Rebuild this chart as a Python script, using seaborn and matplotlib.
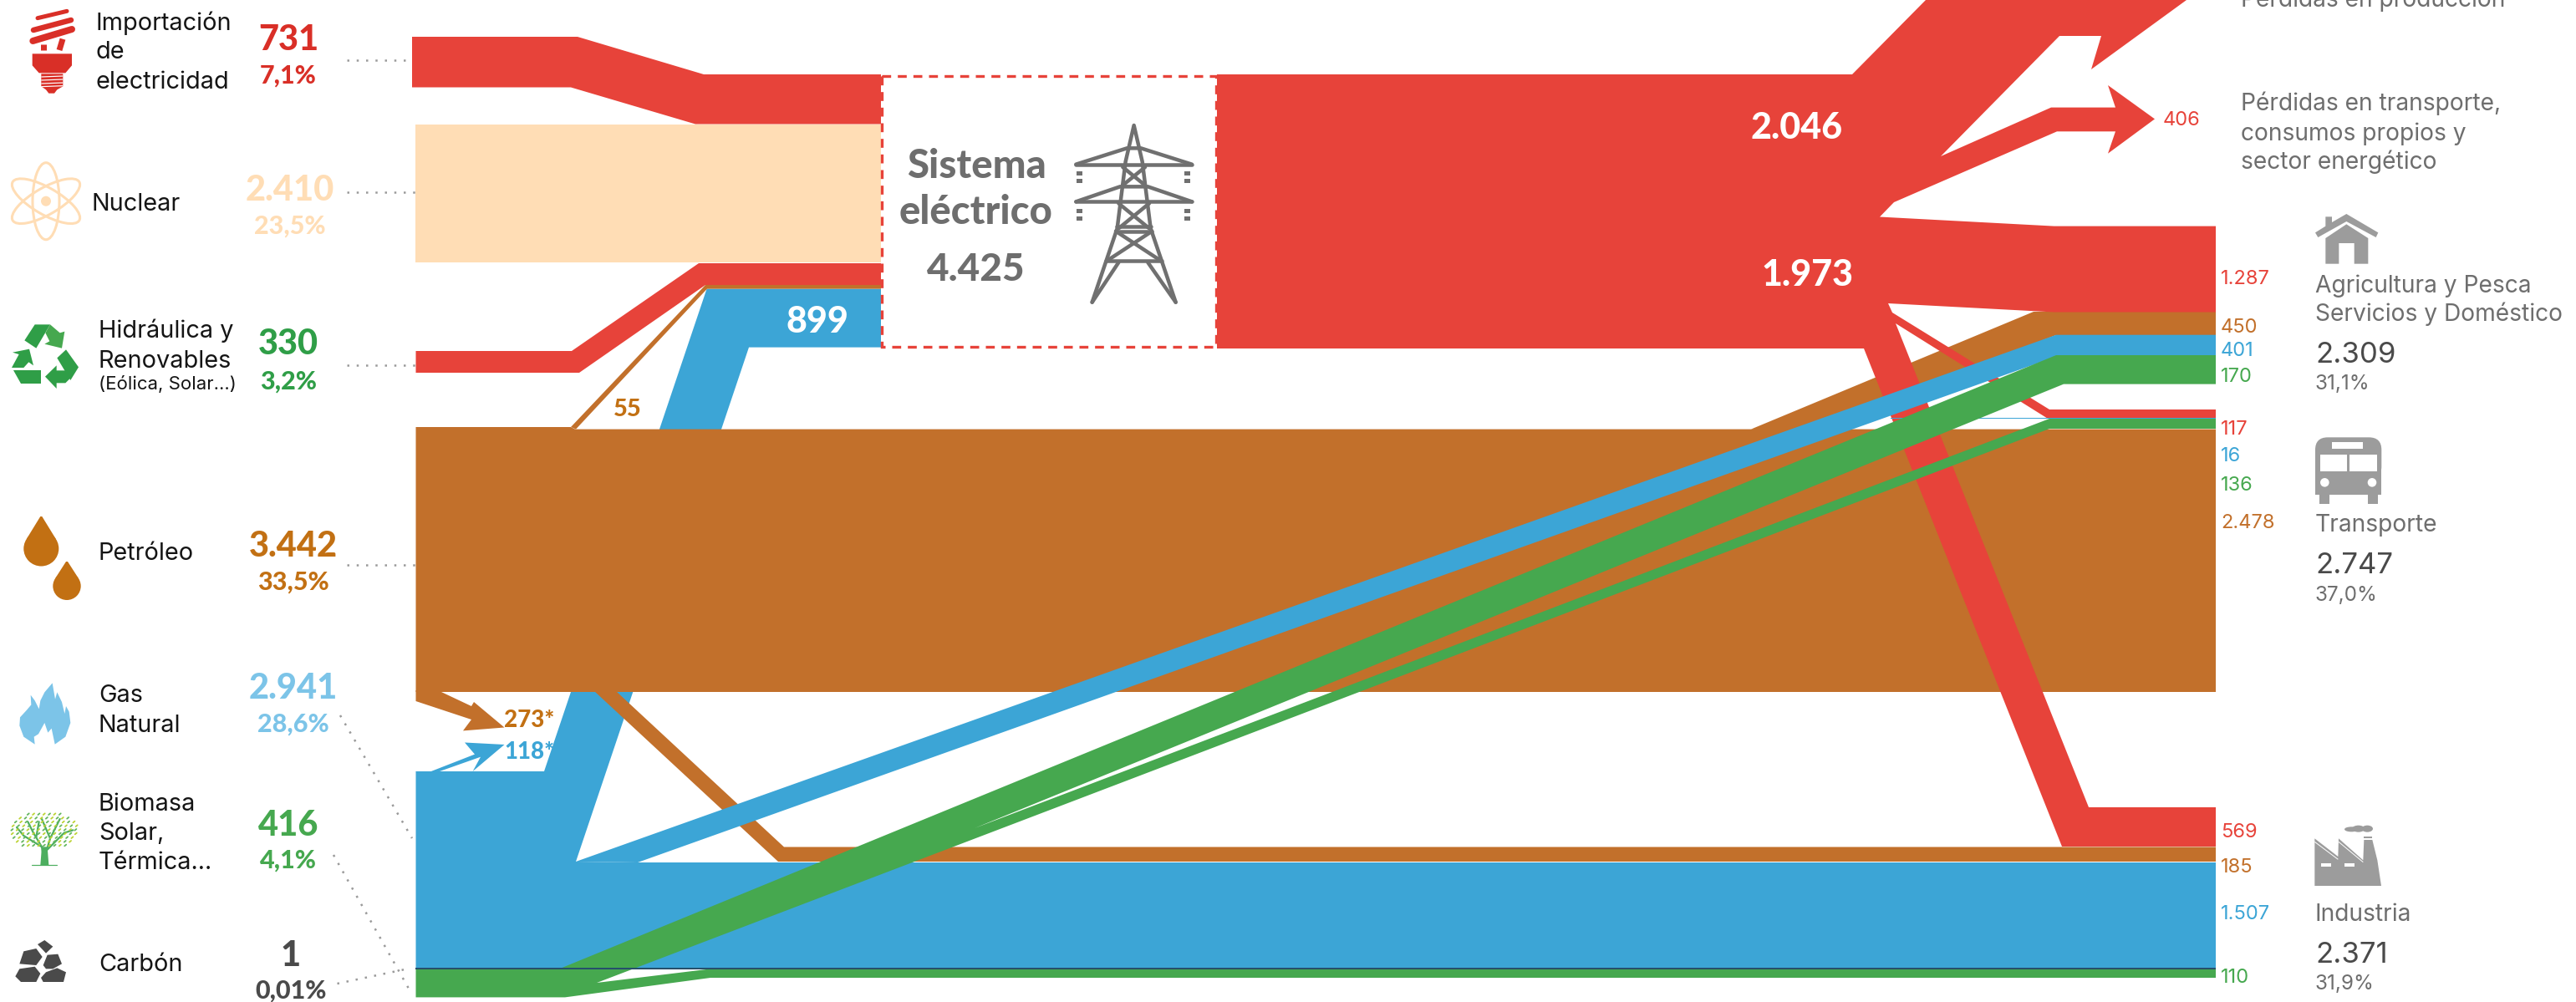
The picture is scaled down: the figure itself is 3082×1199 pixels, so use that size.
import numpy as np
import pandas as pd
import matplotlib
matplotlib.use("Agg")
import matplotlib.pyplot as plt
from matplotlib.patches import Ellipse, Circle, FancyBboxPatch, Rectangle
import seaborn as sns

# ---------------- DATA ----------------
sources = ["Importación de electricidad", "Nuclear", "Hidráulica y Renovables", "Petróleo",
           "Gas Natural", "Biomasa Solar, Térmica", "Carbón"]
source_values = ["731", "2.410", "330", "3.442", "2.941", "416", "1"]
source_shares = ["7,1%", "23,5%", "3,2%", "33,5%", "28,6%", "4,1%", "0,01%"]
electric_total = "4.425"
electric_inputs = ["899", "55"]
electric_outputs = ["2.046", "1.973"]
star_values = ["273*", "118*"]
transport_loss = "406"
sector_flows = ["1.287", "450", "401", "170", "117", "16", "136", "2.478", "569", "185", "1.507", "110"]
sectors = ["Transporte", "Industria"]
sector_totals = ["2.309", "2.747", "2.371"]
sector_shares = ["31,1%", "37,0%", "31,9%"]

# ---------------- STYLE ----------------
RED, PEACH, ORANGE, BLUE, GREEN = "#E7433A", "#FFDDB5", "#C2702B", "#3CA5D6", "#46A84F"
T_RED, T_GREEN, T_BLUE, T_DARK, T_GREY = "#D92F27", "#2F9E47", "#7CC4E8", "#4A4A4A", "#6E6E6E"
OIL = "#C27013"
ICON = "#9C9C9C"
sns.set_theme(style="white")
plt.rcParams["font.family"] = ["Inter", "Lato", "DejaVu Sans"]
BOLD = ["Lato", "DejaVu Sans"]

W, H = 3082, 1199
fig = plt.figure(figsize=(W / 100, H / 100), dpi=100)
ax = fig.add_axes([0, 0, 1, 1])
ax.set_xlim(0, W)
ax.set_ylim(H, 0)
ax.axis("off")


def band(pts, color, z):
    a = np.array(pts, float)
    ax.fill(a[:, 0], a[:, 1], color=color, lw=0, zorder=z)


def txt(x, y, s, size, color="#151515", weight="normal", ha="left", z=20):
    fam = BOLD if weight != "normal" else plt.rcParams["font.family"]
    ax.text(x, y, s, fontsize=size, color=color, fontweight=weight, ha=ha, va="center_baseline",
            zorder=z, family=fam, clip_on=True)


def seg(pts, color, w, z=21, cap="round"):
    a = np.array(pts, float)
    ax.plot(a[:, 0], a[:, 1], color=color, lw=w * 0.72, solid_capstyle=cap, solid_joinstyle="round", zorder=z)


# ---------------- FLOWS (layout of the diagram) ----------------
XL, XC, XB, XR = 497.5, 1054, 1456, 2651
# blue feed to electricity, behind the oil block
band([(XL, 923), (651, 923), (845.6, 345.6), (XC, 345.6), (XC, 415.6), (896, 415.6), (689, 1031), (651, 1031)], BLUE, 1)
# oil
band([(XL, 511), (683, 511), (688, 513.6), (XR, 513.6), (XR, 828), (XL, 828)], ORANGE, 2)
band([(XL, 826), (528, 828), (564, 845), (567, 840), (603.5, 870.5), (554, 874.4), (564, 861), (XL, 839)], ORANGE, 2)
band([(711, 827), (737, 827), (938, 1013.5), (XR, 1013.5), (XR, 1031), (931, 1031)], ORANGE, 2)
band([(2095, 513.6), (2433, 373), (XR, 373), (XR, 401), (2460, 401), (2150, 520)], ORANGE, 2)
band([(683, 511), (844, 341), (XC, 341), (XC, 345.6), (846, 345.6), (689, 513.6)], ORANGE, 3)
# electricity in
band([(493, 44), (691, 44), (842, 89), (XC, 89), (XC, 148.5), (832, 148.5), (683, 104.5), (493, 104.5)], RED, 3)
band([(XL, 149), (XC, 149), (XC, 314), (XL, 314)], PEACH, 3)
band([(XL, 420), (684, 420), (836, 315), (XC, 315), (XC, 341), (844, 341), (693, 446), (XL, 446)], RED, 3)
# electricity out
band([(XB, 89), (2216, 89), (2304, 0), (2616, 0), (2502, 83), (2514, 43), (2464, 43), (2322, 187), (2454, 128.6),
      (2531, 128.6), (2522, 102), (2578, 142.4), (2522, 183.7), (2531, 157.3), (2461, 157.3), (2266, 242),
      (2249, 259.5), (2457.5, 270.6), (XR, 270.6), (XR, 373.5), (2457.5, 373.5), (2259, 363), (2264, 374),
      (2452, 490), (XR, 490), (XR, 500), (2448.6, 500), (2268, 387), (2499, 966), (XR, 966), (XR, 1013),
      (2467, 1013), (2230, 417), (XB, 417)], RED, 4)
# thin blue to transport
band([(2262, 499.5), (XR, 499.5), (XR, 501), (2262, 501)], BLUE, 4.5)
# gas
band([(XL, 923), (651, 923), (689, 1031), (763, 1032), (XR, 1032), (XR, 1158), (XL, 1158)], BLUE, 5)
band([(689, 1031), (2460, 400.7), (XR, 400.7), (XR, 425), (2465, 425), (763, 1032)], BLUE, 5)
band([(515.8, 923), (568, 902.6), (556, 888.5), (603.5, 891), (565.6, 923), (575, 905.7), (526, 923)], BLUE, 5)
# biomass / renewables
band([(XL, 1159), (670, 1159), (2460, 425), (XR, 425), (XR, 459.6), (2469, 459.6), (1166, 991), (2452, 501),
      (XR, 501), (XR, 513), (2452, 513), (714, 1176), (849, 1159.5), (XR, 1159.5), (XR, 1170), (850, 1170),
      (676, 1193.4), (XL, 1193.4)], GREEN, 6)
# coal hairline
band([(XL, 1157.5), (XR, 1157.5), (XR, 1159.5), (XL, 1159.5)], "#26506B", 6.5)

# ---------------- ELECTRIC BOX ----------------
ax.add_patch(Rectangle((1055, 90.7), 400, 324.3, fc="white", ec=RED, lw=2.4, ls=(0, (3.2, 2.4)), zorder=7))
txt(1168, 195, "Sistema", 34, T_GREY, 900, "center")
txt(1168, 250, "eléctrico", 34, T_GREY, 900, "center")
txt(1168, 319, electric_total, 33, T_GREY, 900, "center")


def tw(p):
    return [(1000 + x / 3, 60 + y / 3) for x, y in p]


TOWER = "#707070"
for l in [[(920, 905), (1010, 640), (1040, 400), (1070, 270), (1100, 400), (1130, 640), (1220, 905)],
          [(862, 410), (1278, 410)], [(862, 410), (1045, 352), (1095, 352), (1278, 410)],
          [(862, 544), (1278, 544)], [(862, 544), (1020, 490), (1120, 490), (1278, 544)],
          [(1030, 420), (1110, 485)], [(1110, 420), (1030, 485)],
          [(1015, 550), (1125, 640)], [(1125, 550), (1015, 640)],
          [(1008, 632), (1132, 632)], [(1005, 650), (1135, 650)],
          [(1005, 650), (1165, 755)], [(1135, 650), (975, 755)],
          [(970, 757), (1170, 757)], [(1015, 762), (920, 905)], [(1120, 762), (1220, 905)]]:
    seg(tw(l), TOWER, 4.5)
for xx in (875, 1262):
    for yy in (442, 468, 578, 603):
        (x0, y0), = tw([(xx - 10, yy - 7)])
        ax.add_patch(Rectangle((x0, y0), 7, 5, fc=TOWER, lw=0, zorder=21))

# ---------------- LEFT LABELS ----------------
LBL = 20.8
BIG, SMALL = 30, 22
for s, y, x in [("Importación", 25, 115), ("de", 60, 115), ("electricidad", 95, 115), ("Nuclear", 242, 110),
                ("Hidráulica y", 393, 118), ("Renovables", 429, 118), ("Petróleo", 660, 118), ("Gas", 829, 118),
                ("Natural", 865, 118), ("Biomasa", 959, 118), ("Solar,", 994, 118), ("Térmica...", 1029, 118),
                ("Carbón", 1151, 118)]:
    txt(x, y, s, LBL)
txt(118, 458, "(Eólica, Solar...)", 16)

val_pos = [(345, 44, 88), (347, 224, 268), (345, 409, 454), (351, 650, 694), (351, 820, 864), (345, 985, 1027), (348, 1140, 1183.5)]
val_col = [T_RED, PEACH, T_GREEN, OIL, T_BLUE, GREEN, T_DARK]
for v, p, (x, y1, y2), c in zip(source_values, source_shares, val_pos, val_col):
    txt(x, y1, v, BIG, c, 900, "center")
    txt(x, y2, p, SMALL, c, 900, "center")

# dotted leaders
leaders = [((415, 497), (72, 72)), ((415, 497), (230, 230)), ((415, 497), (437, 437)), ((415, 497), (676, 676)),
           ((407, 493), (856, 1003)), ((399, 491), (1023, 1186.5)), ((403.5, 491), (1177, 1158.6))]
for xs, ys in leaders:
    sns.lineplot(x=list(xs), y=list(ys), ax=ax, color="#9A9A9A", lw=1.8, ls=(0, (1, 3.5)),
                 sort=False, estimator=None, legend=False, zorder=1)
ax.set_xlim(0, W)
ax.set_ylim(H, 0)

# ---------------- FLOW LABELS ----------------
txt(977.5, 381, electric_inputs[0], 31, "white", 900, "center")
txt(751, 487, electric_inputs[1], 21, OIL, 900, "center")
txt(2150, 150, electric_outputs[0], 31, "white", 900, "center")
txt(2162, 326, electric_outputs[1], 31, "white", 900, "center")
txt(603.5, 859, star_values[0], 20, OIL, 900)
txt(603.5, 897, star_values[1], 20, BLUE, 900)
txt(2588, 142, transport_loss, 17, RED)
flow_y = [332, 390, 417, 448.5, 512, 544, 578.6, 624, 993, 1036, 1092, 1167]
flow_c = [RED, ORANGE, BLUE, GREEN, RED, BLUE, GREEN, ORANGE, RED, ORANGE, BLUE, GREEN]
for s, y, c in zip(sector_flows, flow_y, flow_c):
    txt(2657, y, s, 17, c)

for s, y in [("Pérdidas en producción", -3), ("Pérdidas en transporte,", 120.5), ("consumos propios y", 157), ("sector energético", 191)]:
    txt(2681, y, s, 20.3, T_GREY)
for s, y in [("Agricultura y Pesca", 339), ("Servicios y Doméstico", 373), (sectors[0], 626), (sectors[1], 1091)]:
    txt(2770, y, s, 20.3, T_GREY)
for v, p, y1, y2 in zip(sector_totals, sector_shares, (421, 674, 1139), (457, 710, 1175)):
    txt(2770, y1, v, 25, T_DARK)
    txt(2770, y2, p, 17.5, T_GREY)

# ---------------- ICONS ----------------
TL = lambda p: [(x / 3, y / 3) for x, y in p]               # top-left crop
BL = lambda p: [(x / 3, 780 + y / 3) for x, y in p]         # bottom-left crop
TR = lambda p: [(2660 + x / 3, 230 + y / 3) for x, y in p]  # right crop
FA = lambda p: [(2750 + x / 3, 970 + y / 3) for x, y in p]  # factory crop


def rect(mapper, x0, y0, x1, y1, color, z=21):
    (a, b), (c, d) = mapper([(x0, y0), (x1, y1)])
    ax.add_patch(Rectangle((a, b), c - a, d - b, fc=color, lw=0, zorder=z))


# bulb
band(TL([(116, 193), (258, 193), (258, 235), (235, 262), (140, 262), (116, 235)]), T_RED, 20)
band(TL([(148, 265), (226, 265), (226, 310), (205, 322), (195, 335), (175, 335), (165, 322), (148, 310)]), T_RED, 20)
for yy in (276, 288, 300, 311):
    seg(TL([(148, yy), (226, yy - 3)]), "white", 1.2, cap="butt")
seg(TL([(135, 65), (240, 40)]), T_RED, 5)
seg(TL([(120, 108), (255, 72)]), T_RED, 6.5)
seg(TL([(118, 147), (258, 105)]), T_RED, 8)
seg(TL([(155, 160), (155, 180)]), T_RED, 7, cap="butt")
seg(TL([(225, 140), (213, 180)]), T_RED, 7, cap="butt")

# atom
for ang in (90, 30, 150):
    ax.add_patch(Ellipse((55, 240.7), 92, 32, angle=ang, fc="none", ec=PEACH, lw=2.2, zorder=20))
ax.add_patch(Circle((55, 240.7), 6, fc=PEACH, lw=0, zorder=20))

# recycle
for p, c in [([(125, 1165), (180, 1165), (130, 1250), (88, 1222)], T_GREEN),
             ([(180, 1165), (215, 1195), (232, 1190), (222, 1250), (160, 1235), (178, 1225), (163, 1195)], GREEN),
             ([(42, 1320), (68, 1272), (45, 1265), (105, 1253), (120, 1312), (103, 1300), (85, 1320)], T_GREEN),
             ([(47, 1330), (148, 1330), (148, 1378), (75, 1378)], T_GREEN),
             ([(162, 1352), (203, 1312), (203, 1330), (235, 1330), (252, 1358), (235, 1375), (203, 1375), (203, 1395)], T_GREEN),
             ([(237, 1255), (282, 1318), (253, 1365), (205, 1285)], T_GREEN)]:
    band(TL(p), c, 20)


# drops
def drop(cx, tip, bottom, r, color):
    cy = bottom - r
    s = r / (cy - tip)
    c = np.sqrt(1 - s * s)
    band([(cx - 1, tip), (cx + 1, tip), (cx + r * c, cy - r * s), (cx - r * c, cy - r * s)], color, 20)
    ax.add_patch(Circle((cx, cy), r, fc=color, lw=0, zorder=20))


drop(49.3, 618, 677.5, 21, OIL)
drop(80, 672, 718, 16.7, OIL)

# flame
band(BL([(188, 112), (160, 145), (145, 175), (140, 205), (125, 175), (110, 155), (112, 190), (95, 210), (72, 235), (70, 265),
         (85, 305), (125, 332), (122, 305), (138, 295), (160, 255), (172, 290), (185, 275), (197, 332), (235, 305),
         (253, 255), (248, 215), (237, 195), (232, 222), (222, 180), (205, 145), (198, 170)]), T_BLUE, 20)

# tree
for l in [[(160, 760), (150, 700), (120, 650), (100, 610)], [(150, 700), (85, 660), (60, 630)],
          [(165, 720), (180, 670), (150, 600)], [(170, 710), (230, 650), (262, 640)], [(180, 670), (215, 600)],
          [(130, 665), (140, 610)]]:
    seg(BL(l), "#4DAE5F", 2.2)
seg(BL([(115, 765), (205, 765)]), "#4DAE5F", 1.2)
band(BL([(145, 765), (150, 700), (170, 700), (175, 765)]), "#4DAE5F", 20)
for i, ry in enumerate(range(585, 705, 14)):
    half = 120 * np.sqrt(max(0.0, 1 - ((ry - 645) / 70) ** 2))
    for j, rx in enumerate(np.arange(160 - half, 160 + half, 19)):
        c = "#BCD334" if (i + j) % 2 else "#63B65E"
        seg(BL([(rx, ry), (rx + 6, ry - 5)]), c, 1.8)

# coal
for p in [[(135, 1050), (160, 1035), (190, 1058), (165, 1082)],
          [(70, 1120), (85, 1075), (130, 1065), (152, 1095), (130, 1125)],
          [(155, 1125), (170, 1088), (208, 1085), (222, 1120), (190, 1138), (165, 1138)],
          [(55, 1165), (70, 1138), (125, 1130), (145, 1155), (130, 1185), (75, 1185)],
          [(147, 1170), (165, 1150), (205, 1135), (237, 1150), (228, 1185), (155, 1185)]]:
    band(BL(p), T_DARK, 20)

# house
band(TR([(442, 78), (556, 145), (548, 162), (442, 105), (340, 162), (330, 145), (367, 122), (367, 88), (390, 88), (390, 108)]), ICON, 20)
band(TR([(367, 165), (442, 115), (520, 165), (520, 257), (470, 257), (470, 183), (415, 183), (415, 257), (367, 257)]), ICON, 20)

# bus
(bx, by), = TR([(330, 880)])
ax.add_patch(FancyBboxPatch((bx, by), 79.3, 50, boxstyle="round,pad=0,rounding_size=15", fc=ICON, lw=0, zorder=20))
rect(TR, 330, 930, 568, 1085, ICON, 20)
rect(TR, 345, 1085, 380, 1120, ICON, 20)
rect(TR, 520, 1085, 555, 1120, ICON, 20)
rect(TR, 390, 898, 502, 920, "white")
rect(TR, 348, 942, 445, 1003, "white")
rect(TR, 453, 942, 552, 1003, "white")
for cx in (364, 534):
    (ex, ey), = TR([(cx, 1042)])
    ax.add_patch(Circle((ex, ey), 5.3, fc="white", lw=0, zorder=21))

# factory
band(FA([(58, 100), (142, 165), (144, 100), (232, 178), (235, 105), (265, 105), (283, 178), (297, 270), (58, 270)]), ICON, 20)
rect(FA, 235, 93, 265, 100, ICON, 20)
rect(FA, 80, 188, 117, 202, "white")
rect(FA, 165, 188, 202, 202, "white")
seg(FA([(58, 112), (142, 175)]), "white", 1, cap="butt")
seg(FA([(144, 112), (232, 185)]), "white", 1, cap="butt")
for cx, cy, w, h in ((190, 67, 50, 18), (215, 65, 45, 24), (247, 65, 40, 24)):
    (ex, ey), = FA([(cx, cy)])
    ax.add_patch(Ellipse((ex, ey), w / 3, h / 3, fc=ICON, lw=0, zorder=20))

fig.savefig("out.png", dpi=100, facecolor="white")
